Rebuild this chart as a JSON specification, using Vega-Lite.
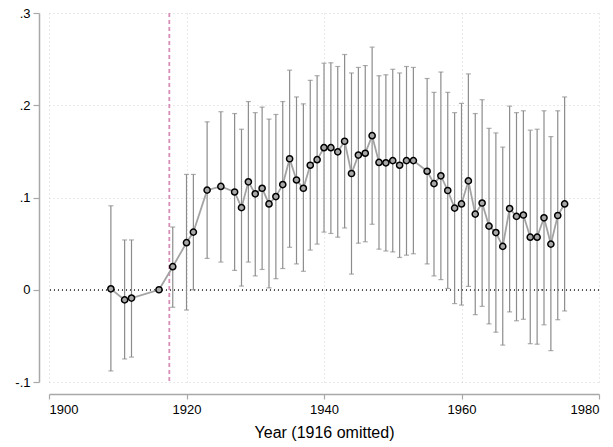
{
  "$schema": "https://vega.github.io/schema/vega-lite/v6.json",
  "autosize": {"type": "none"},
  "width": 550,
  "height": 369,
  "padding": {"left": 49, "top": 13, "right": 14, "bottom": 65},
  "background": "white",
  "config": {
    "view": {"stroke": null},
    "font": "Liberation Sans",
    "axis": {
      "labelFont": "Liberation Sans",
      "titleFont": "Liberation Sans",
      "labelColor": "#000000",
      "titleColor": "#000000",
      "labelFontSize": 13,
      "domainColor": "#a8a8a8",
      "domainWidth": 1.5,
      "tickColor": "#a8a8a8",
      "tickWidth": 1.2,
      "gridColor": "#d4d4d4",
      "gridDash": [1, 3],
      "gridWidth": 1
    }
  },
  "data": {
    "values": [
      {"year": 1909, "b": 0.001, "lo": -0.088, "hi": 0.091},
      {"year": 1911, "b": -0.011, "lo": -0.075, "hi": 0.054},
      {"year": 1912, "b": -0.009, "lo": -0.073, "hi": 0.054},
      {"year": 1916, "b": 0, "lo": null, "hi": null},
      {"year": 1918, "b": 0.025, "lo": -0.019, "hi": 0.068},
      {"year": 1920, "b": 0.051, "lo": -0.022, "hi": 0.125},
      {"year": 1921, "b": 0.0625, "lo": 0.0, "hi": 0.125},
      {"year": 1923, "b": 0.108, "lo": 0.034, "hi": 0.182},
      {"year": 1925, "b": 0.112, "lo": 0.030, "hi": 0.193},
      {"year": 1927, "b": 0.106, "lo": 0.021, "hi": 0.191},
      {"year": 1928, "b": 0.089, "lo": 0.004, "hi": 0.174},
      {"year": 1929, "b": 0.117, "lo": 0.030, "hi": 0.204},
      {"year": 1930, "b": 0.104, "lo": 0.015, "hi": 0.192},
      {"year": 1931, "b": 0.110, "lo": 0.022, "hi": 0.198},
      {"year": 1932, "b": 0.093, "lo": 0.002, "hi": 0.185},
      {"year": 1933, "b": 0.101, "lo": 0.012, "hi": 0.190},
      {"year": 1934, "b": 0.114, "lo": 0.023, "hi": 0.204},
      {"year": 1935, "b": 0.142, "lo": 0.046, "hi": 0.238},
      {"year": 1936, "b": 0.119, "lo": 0.028, "hi": 0.209},
      {"year": 1937, "b": 0.110, "lo": 0.020, "hi": 0.2015},
      {"year": 1938, "b": 0.135, "lo": 0.043, "hi": 0.227},
      {"year": 1939, "b": 0.141, "lo": 0.0495, "hi": 0.232},
      {"year": 1940, "b": 0.154, "lo": 0.0625, "hi": 0.2456},
      {"year": 1941, "b": 0.154, "lo": 0.061, "hi": 0.246},
      {"year": 1942, "b": 0.1495, "lo": 0.057, "hi": 0.242},
      {"year": 1943, "b": 0.161, "lo": 0.067, "hi": 0.255},
      {"year": 1944, "b": 0.126, "lo": 0.017, "hi": 0.235},
      {"year": 1945, "b": 0.146, "lo": 0.0505, "hi": 0.241},
      {"year": 1946, "b": 0.148, "lo": 0.052, "hi": 0.243},
      {"year": 1947, "b": 0.167, "lo": 0.071, "hi": 0.263},
      {"year": 1948, "b": 0.138, "lo": 0.044, "hi": 0.232},
      {"year": 1949, "b": 0.1376, "lo": 0.042, "hi": 0.233},
      {"year": 1950, "b": 0.140, "lo": 0.041, "hi": 0.239},
      {"year": 1951, "b": 0.135, "lo": 0.035, "hi": 0.235},
      {"year": 1952, "b": 0.140, "lo": 0.0375, "hi": 0.242},
      {"year": 1953, "b": 0.140, "lo": 0.039, "hi": 0.241},
      {"year": 1955, "b": 0.1285, "lo": 0.028, "hi": 0.229},
      {"year": 1956, "b": 0.115, "lo": 0.015, "hi": 0.214},
      {"year": 1957, "b": 0.1235, "lo": 0.011, "hi": 0.236},
      {"year": 1958, "b": 0.1076, "lo": 0.0014, "hi": 0.214},
      {"year": 1959, "b": 0.0885, "lo": -0.015, "hi": 0.192},
      {"year": 1960, "b": 0.093, "lo": -0.0166, "hi": 0.202},
      {"year": 1961, "b": 0.118, "lo": 0.0036, "hi": 0.234},
      {"year": 1962, "b": 0.082, "lo": -0.027, "hi": 0.191},
      {"year": 1963, "b": 0.094, "lo": -0.018, "hi": 0.206},
      {"year": 1964, "b": 0.069, "lo": -0.037, "hi": 0.175},
      {"year": 1965, "b": 0.062, "lo": -0.046, "hi": 0.170},
      {"year": 1966, "b": 0.047, "lo": -0.060, "hi": 0.1546},
      {"year": 1967, "b": 0.088, "lo": -0.024, "hi": 0.199},
      {"year": 1968, "b": 0.0795, "lo": -0.0336, "hi": 0.192},
      {"year": 1969, "b": 0.081, "lo": -0.032, "hi": 0.194},
      {"year": 1970, "b": 0.057, "lo": -0.0585, "hi": 0.173},
      {"year": 1971, "b": 0.057, "lo": -0.059, "hi": 0.174},
      {"year": 1972, "b": 0.078, "lo": -0.038, "hi": 0.194},
      {"year": 1973, "b": 0.0495, "lo": -0.066, "hi": 0.166},
      {"year": 1974, "b": 0.0805, "lo": -0.0325, "hi": 0.194},
      {"year": 1975, "b": 0.093, "lo": -0.023, "hi": 0.209}
    ]
  },
  "encoding": {
    "x": {
      "field": "year",
      "type": "quantitative",
      "scale": {"domain": [1900, 1980], "nice": false, "zero": false},
      "axis": {
        "values": [1900, 1920, 1940, 1960, 1980],
        "format": "d",
        "title": "Year (1916 omitted)",
        "titleFontSize": 16,
        "titleFontWeight": "normal",
        "titlePadding": 8,
        "offset": 12,
        "tickSize": 5,
        "labelPadding": 4,
        "grid": true
      }
    }
  },
  "layer": [
    {
      "mark": {"type": "rule", "color": "#555555", "strokeDash": [1, 3], "strokeWidth": 0.8},
      "encoding": {"y": {"datum": 0, "type": "quantitative"}, "x": null}
    },
    {
      "data": {"values": [{"year": 1917.5}]},
      "mark": {"type": "rule", "color": "#d68db6", "strokeDash": [4, 3], "strokeWidth": 1.8},
      "encoding": {}
    },
    {
      "transform": [{"filter": "isValid(datum.lo)"}],
      "mark": {"type": "rule", "color": "#8c8c8c", "strokeWidth": 1.2},
      "encoding": {
        "y": {"field": "lo", "type": "quantitative"},
        "y2": {"field": "hi"}
      }
    },
    {
      "transform": [{"filter": "isValid(datum.lo)"}],
      "mark": {"type": "tick", "orient": "horizontal", "color": "#8c8c8c", "size": 5, "thickness": 1.2},
      "encoding": {"y": {"field": "lo", "type": "quantitative"}}
    },
    {
      "transform": [{"filter": "isValid(datum.hi)"}],
      "mark": {"type": "tick", "orient": "horizontal", "color": "#8c8c8c", "size": 5, "thickness": 1.2},
      "encoding": {"y": {"field": "hi", "type": "quantitative"}}
    },
    {
      "mark": {"type": "line", "color": "#a3a3a3", "strokeWidth": 1.8},
      "encoding": {
        "y": {
          "field": "b",
          "type": "quantitative",
          "scale": {"domain": [-0.1, 0.3], "nice": false, "zero": false},
          "axis": {
            "values": [-0.1, 0, 0.1, 0.2, 0.3],
            "labelExpr": "datum.value == 0 ? '0' : (datum.value < 0 ? '-' : '') + '.' + round(abs(datum.value) * 10)",
            "title": null,
            "offset": 10,
            "tickSize": 6,
            "labelPadding": 3,
            "grid": true
          }
        }
      }
    },
    {
      "mark": {"type": "point", "shape": "circle", "filled": true, "fill": "#a8a8a8", "stroke": "#000000", "strokeWidth": 1.5, "size": 38, "opacity": 1},
      "encoding": {"y": {"field": "b", "type": "quantitative"}}
    }
  ]
}
